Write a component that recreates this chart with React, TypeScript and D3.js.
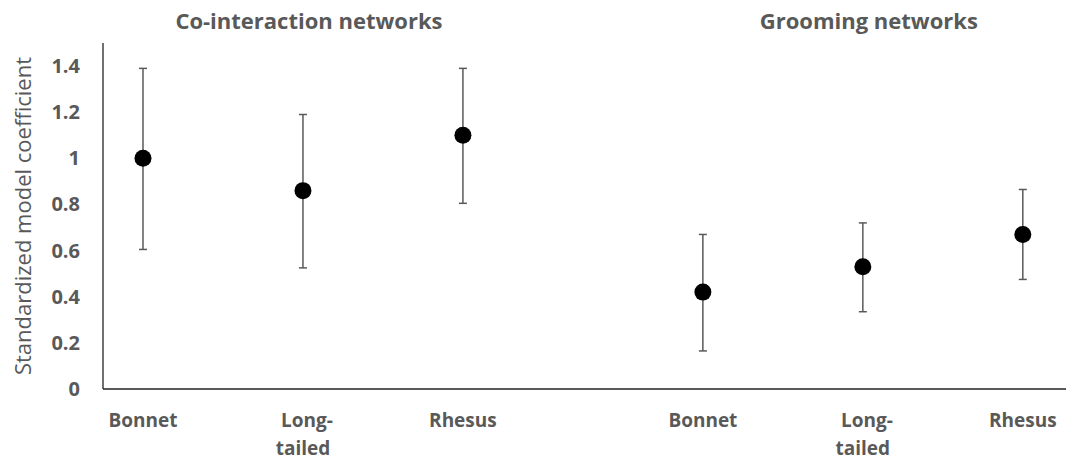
import * as d3 from 'd3';
import { useEffect, useRef } from 'react';

// Data
const groups = ['Co-interaction networks', 'Grooming networks'];
const species = ['Bonnet', 'Long-tailed', 'Rhesus'];
// x positions (blank gap between the two groups)
const positions = [1, 2, 3, 4.5, 5.5, 6.5];
const means = [1.0, 0.86, 1.1, 0.42, 0.53, 0.67];
const upper = [1.39, 1.19, 1.39, 0.67, 0.72, 0.865];
const lower = [0.605, 0.525, 0.805, 0.165, 0.335, 0.475];
const yTicks = [0, 0.2, 0.4, 0.6, 0.8, 1, 1.2, 1.4];

const App = () => {
    const ref = useRef<SVGSVGElement | null>(null);

    useEffect(() => {
        const svg = d3.select(ref.current);
        svg.selectAll('*').remove();

        const gray = '#595959';
        const font = '"Open Sans", Lato, sans-serif';

        const x = d3.scaleLinear().domain([0.75, 6.77]).range([103, 1066]);
        const y = d3.scaleLinear().domain([0, 1.5]).range([389, 43]);

        // Axis lines
        svg.append('line')
            .attr('x1', x(0.75)).attr('x2', x(0.75))
            .attr('y1', y(1.5)).attr('y2', y(0))
            .attr('stroke', '#222').attr('stroke-width', 1.3);
        svg.append('line')
            .attr('x1', x(0.75)).attr('x2', x(6.77))
            .attr('y1', y(0)).attr('y2', y(0))
            .attr('stroke', '#222').attr('stroke-width', 1.3);

        // Y tick labels
        svg.selectAll('.ytick')
            .data(yTicks)
            .enter()
            .append('text')
            .attr('x', 80)
            .attr('y', (d) => y(d))
            .attr('dy', '0.35em')
            .attr('text-anchor', 'end')
            .style('font-family', font)
            .style('font-size', '20px')
            .style('font-weight', 'bold')
            .attr('fill', gray)
            .text((d) => String(d));

        // Y axis label
        svg.append('text')
            .attr('transform', `translate(31, ${y(0.75)}) rotate(-90)`)
            .attr('text-anchor', 'middle')
            .style('font-family', font)
            .style('font-size', '22px')
            .attr('fill', gray)
            .text('Standardized model coefficient');

        // Category labels
        const labels = positions.map((p, i) => ({ p, name: species[i % 3] }));
        labels.forEach((d) => {
            const t = svg.append('text')
                .attr('x', x(d.p))
                .attr('y', 427)
                .attr('text-anchor', 'middle')
                .style('font-family', font)
                .style('font-size', '19px')
                .style('font-weight', 'bold')
                .attr('fill', gray);
            if (d.name === 'Long-tailed') {
                t.append('tspan').attr('x', x(d.p) + 4).text('Long-');
                t.append('tspan').attr('x', x(d.p)).attr('dy', 28).text('tailed');
            } else {
                t.text(d.name);
            }
        });

        // Group titles
        groups.forEach((g, i) => {
            svg.append('text')
                .attr('x', x(positions[i * 3 + 1]) + 6)
                .attr('y', 29)
                .attr('text-anchor', 'middle')
                .style('font-family', font)
                .style('font-size', '22px')
                .style('font-weight', 'bold')
                .attr('fill', gray)
                .text(g);
        });

        // Error bars
        const idx = d3.range(positions.length);
        svg.selectAll('.err')
            .data(idx)
            .enter()
            .append('line')
            .attr('x1', (i) => x(positions[i]))
            .attr('x2', (i) => x(positions[i]))
            .attr('y1', (i) => y(lower[i]))
            .attr('y2', (i) => y(upper[i]))
            .attr('stroke', gray)
            .attr('stroke-width', 1.5);
        [upper, lower].forEach((arr) => {
            svg.selectAll(null)
                .data(idx)
                .enter()
                .append('line')
                .attr('x1', (i) => x(positions[i]) - 4)
                .attr('x2', (i) => x(positions[i]) + 4)
                .attr('y1', (i) => y(arr[i]))
                .attr('y2', (i) => y(arr[i]))
                .attr('stroke', gray)
                .attr('stroke-width', 1.5);
        });

        // Points
        svg.selectAll('.pt')
            .data(idx)
            .enter()
            .append('circle')
            .attr('cx', (i) => x(positions[i]))
            .attr('cy', (i) => y(means[i]))
            .attr('r', 8.5)
            .attr('fill', '#000');
    }, []);

    return <svg ref={ref} width={1075} height={460} style={{ position: 'absolute', left: 0, top: 0, background: '#fff' }} />;
};

export default App;
